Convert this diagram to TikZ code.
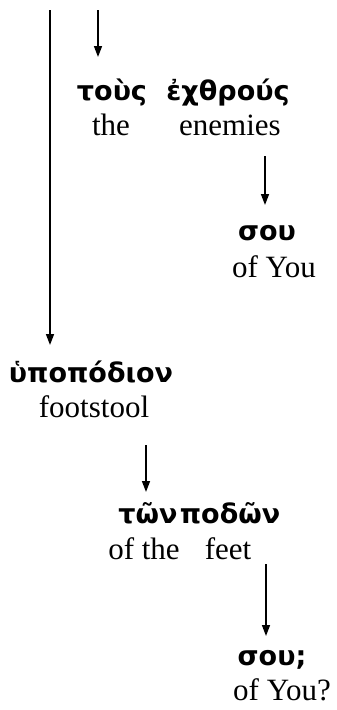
\documentclass[tikz,border=0pt]{standalone}
\usepackage{fontspec}
\setmainfont{Liberation Serif}
\newfontfamily\greekfont{DejaVu Sans}
\usetikzlibrary{arrows.meta,calc}

\tikzset{
  grk/.style={anchor=base,inner sep=0pt,font=\greekfont\bfseries\fontsize{27}{31}\selectfont},
  gls/.style={anchor=base,inner sep=0pt,font=\fontsize{31}{36}\selectfont},
  arr/.style={line width=1.5pt,-{Triangle[length=11pt,width=8pt]}}
}

\begin{document}
\begin{tikzpicture}[x=1pt,y=-1pt]
        \useasboundingbox (0,0) rectangle (337,710);
        \coordinate (top1) at (50,10);
        \coordinate (top2) at (98,10);

        \node[grk] (tous) at (112,100) {τοὺς};
        \node[grk] (echthrous) at (228,100) {ἐχθρούς};
        \node[gls] (the) at (111,135) {the};
        \node[gls] (enemies) at (230,135) {enemies};

        \node[grk] (sou) at (267,240) {σου};
        \node[gls] (ofyou) at (274,277) {of You};

        \node[grk] (hypopodion) at (91,382) {ὑποπόδιον};
        \node[gls] (footstool) at (94,417) {footstool};

        \node[grk] (ton) at (148,523) {τῶν};
        \node[grk] (podon) at (230,523) {ποδῶν};
        \node[gls] (ofthe) at (144,559) {of the};
        \node[gls] (feet) at (228,559) {feet};

        \node[grk] (soutwo) at (272,665) {σου;};
        \node[gls] (ofyoutwo) at (282,700) {of You?};

        \draw[arr] (top1) -- ($(top1 |- hypopodion.base)+(0,-37)$);
        \draw[arr] (top2) -- ($(top2 |- tous.base)+(0,-43)$);
        \draw[arr] ($(sou.base |- enemies.base)+(-2,21)$) -- ($(sou.base)+(-2,-35)$);
        \draw[arr] ($(ton.base |- footstool.base)+(-2,28)$) -- ($(ton.base)+(-2,-31)$);
        \draw[arr] ($(soutwo.base |- feet.base)+(-6,5)$) -- ($(soutwo.base)+(-6,-29)$);
\end{tikzpicture}
\end{document}
